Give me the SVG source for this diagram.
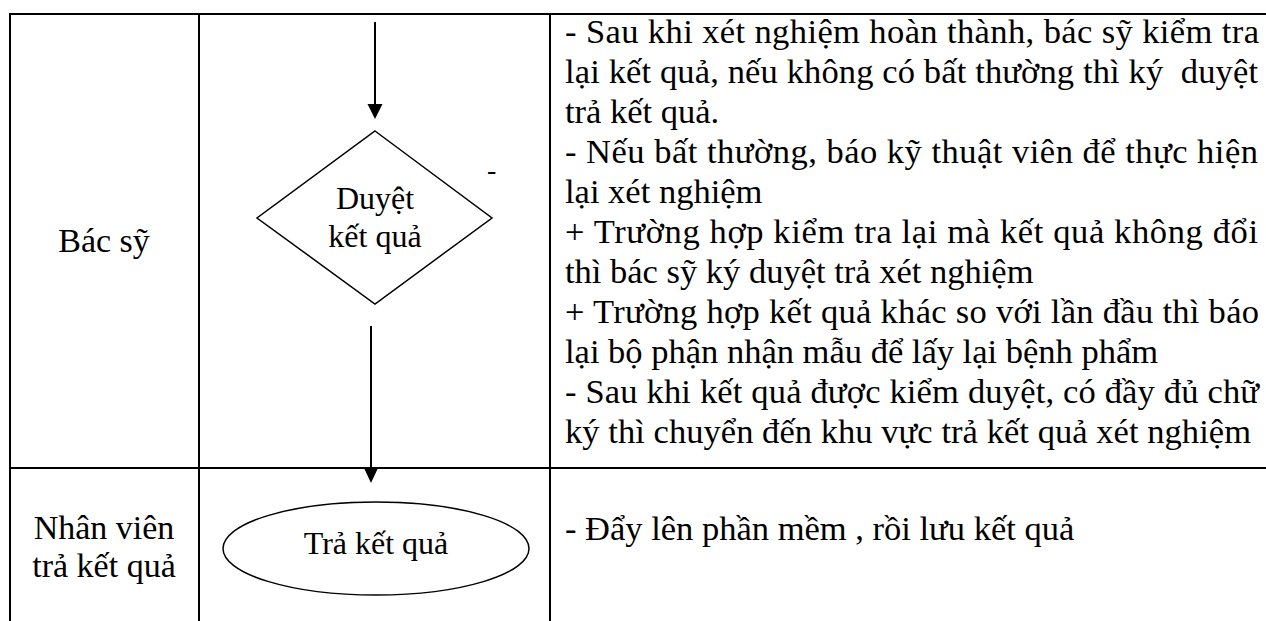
<svg xmlns="http://www.w3.org/2000/svg" width="1266" height="621" viewBox="0 0 1266 621">
  <style>
    .grid { stroke: #000; stroke-width: 2; fill: none; }
    .shape { fill: #fff; stroke: #000; stroke-width: 1.5; }
    .conn { stroke: #000; stroke-width: 2; fill: none; }
    .head { fill: #000; stroke: none; }
    text { font-family: "Liberation Serif", "Times New Roman", serif; fill: #000; }
    .lane { font-size: 34px; text-anchor: middle; }
    .node { font-size: 32px; text-anchor: middle; }
    .desc { font-size: 34.5px; }
  </style>
  <rect width="1266" height="621" fill="#fff"/>

  <g id="table">
    <line class="grid" x1="9" y1="14" x2="1266" y2="14"/>
    <line class="grid" x1="10" y1="13" x2="10" y2="621"/>
    <line class="grid" x1="199" y1="13" x2="199" y2="621"/>
    <line class="grid" x1="550" y1="13" x2="550" y2="621"/>
    <line class="grid" x1="9" y1="468" x2="1266" y2="468"/>
  </g>

  <g id="lane-bac-sy">
    <text class="lane" x="104" y="252">Bác sỹ</text>
  </g>
  <g id="lane-nhan-vien">
    <text class="lane" x="104" y="539">Nhân viên</text>
    <text class="lane" x="104" y="577">trả kết quả</text>
  </g>

  <g id="connectors">
    <line class="conn" x1="375" y1="22" x2="375" y2="105"/>
    <polygon class="head" points="367.5,104 382.5,104 375,119"/>
    <line class="conn" x1="371" y1="326" x2="371" y2="469"/>
    <polygon class="head" points="364,468 378,468 371,483"/>
  </g>

  <g id="node-duyet">
    <polygon class="shape" points="375,131 492,218 375,304 257,218"/>
    <text class="node" x="375" y="209">Duyệt</text>
    <text class="node" x="375" y="247">kết quả</text>
  </g>
  <text x="487" y="179" style="font-size:28px">-</text>

  <g id="node-tra-ket-qua">
    <ellipse class="shape" cx="376" cy="548.5" rx="153" ry="46.5"/>
    <text class="node" x="376" y="554">Trả kết quả</text>
  </g>

  <g id="desc-bac-sy">
    <text class="desc" x="565" y="43" textLength="694" lengthAdjust="spacing">- Sau khi xét nghiệm hoàn thành, bác sỹ kiểm tra</text>
    <text class="desc" x="565" y="83" textLength="693" lengthAdjust="spacing" xml:space="preserve">lại kết quả, nếu không có bất thường thì ký  duyệt</text>
    <text class="desc" x="565" y="123">trả kết quả.</text>
    <text class="desc" x="565" y="163" textLength="693" lengthAdjust="spacing">- Nếu bất thường, báo kỹ thuật viên để thực hiện</text>
    <text class="desc" x="565" y="203">lại xét nghiệm</text>
    <text class="desc" x="565" y="243" textLength="693" lengthAdjust="spacing">+ Trường hợp kiểm tra lại mà kết quả không đổi</text>
    <text class="desc" x="565" y="283">thì bác sỹ ký duyệt trả xét nghiệm</text>
    <text class="desc" x="565" y="323" textLength="694" lengthAdjust="spacing">+ Trường hợp kết quả khác so với lần đầu thì báo</text>
    <text class="desc" x="565" y="363">lại bộ phận nhận mẫu để lấy lại bệnh phẩm</text>
    <text class="desc" x="565" y="403" textLength="694" lengthAdjust="spacing">- Sau khi kết quả được kiểm duyệt, có đầy đủ chữ</text>
    <text class="desc" x="565" y="443" textLength="686" lengthAdjust="spacing">ký thì chuyển đến khu vực trả kết quả xét nghiệm</text>
  </g>
  <g id="desc-nhan-vien">
    <text class="desc" x="565" y="540">- Đẩy lên phần mềm , rồi lưu kết quả</text>
  </g>
</svg>
